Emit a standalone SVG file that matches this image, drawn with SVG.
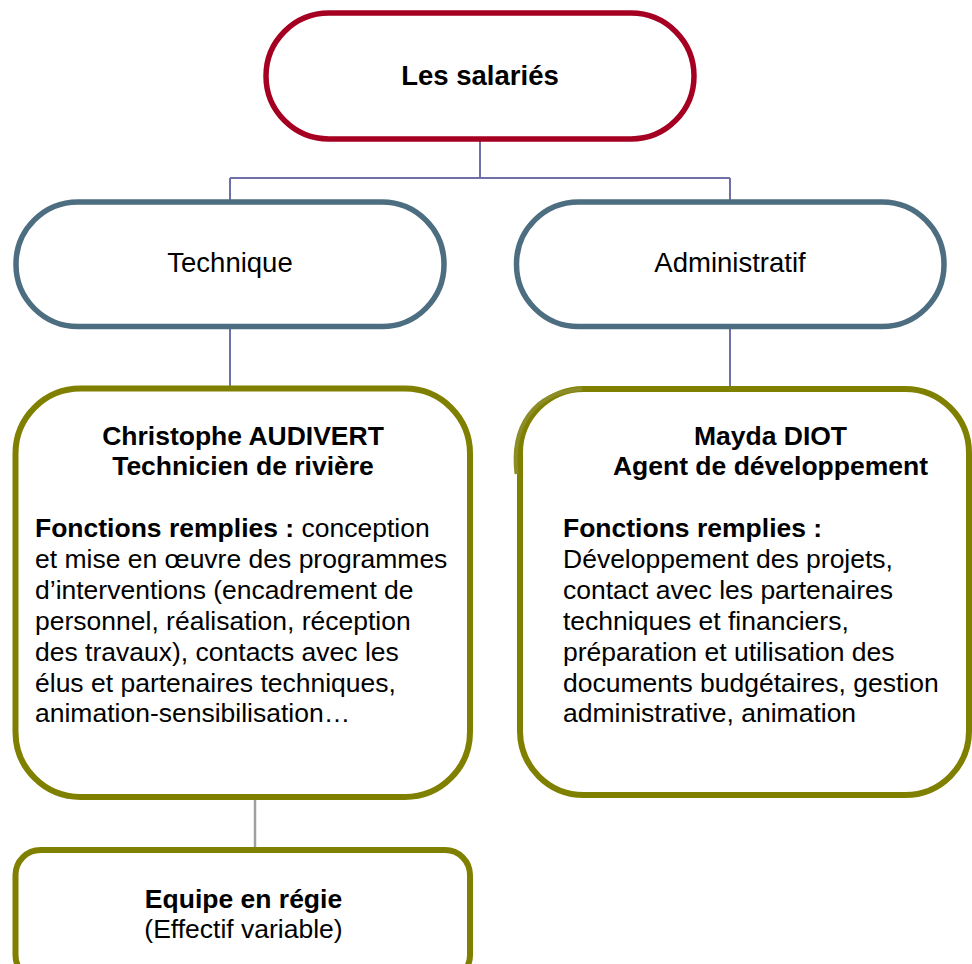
<svg xmlns="http://www.w3.org/2000/svg" width="972" height="964" viewBox="0 0 972 964">
<style>
  text { font-family: "Liberation Sans", Arial, sans-serif; fill: #000; }
  .b { font-weight: bold; }
  .t27 { font-size: 27.5px; }
  .t26 { font-size: 26.5px; }
  .red { fill: #fff; stroke: #A50021; stroke-width: 5.5; }
  .slate { fill: #fff; stroke: #4D6D80; stroke-width: 5.5; }
  .olive { fill: #fff; stroke: #808000; stroke-width: 6; }
  .conn { stroke: #7070A8; stroke-width: 2; fill: none; }
  .conn2 { stroke: #A0A0A0; stroke-width: 2.5; fill: none; }
</style>
<rect width="972" height="964" fill="#fff"/>
<g id="connectors">
  <path class="conn" d="M480 139 V178 M230 178 H730 M230 178 V202 M730 178 V202"/>
  <path class="conn" d="M230 326 V388 M730 326 V388"/>
  <path class="conn2" d="M255 800 V848"/>
</g>
<g id="node-salaries">
  <rect class="red" x="266" y="13" width="428" height="126" rx="63"/>
  <text class="b t27" x="480" y="85" text-anchor="middle">Les salariés</text>
</g>
<g id="node-technique">
  <rect class="slate" x="16" y="202" width="428" height="124.5" rx="62"/>
  <text class="t27" x="230" y="272" text-anchor="middle">Technique</text>
</g>
<g id="node-administratif">
  <rect class="slate" x="516.5" y="202" width="427.5" height="124.5" rx="62"/>
  <text class="t27" x="730" y="272" text-anchor="middle">Administratif</text>
</g>
<g id="node-christophe">
  <rect class="olive" x="15.5" y="388.5" width="454.5" height="408.5" rx="65"/>
  <text class="b t26" x="243" y="445" text-anchor="middle">Christophe AUDIVERT</text>
  <text class="b t26" x="243" y="475" text-anchor="middle">Technicien de rivière</text>
  <text class="t26" x="35" y="537"><tspan class="b">Fonctions remplies :</tspan> conception</text>
  <text class="t26" x="35" y="568">et mise en œuvre des programmes</text>
  <text class="t26" x="35" y="599">d’interventions (encadrement de</text>
  <text class="t26" x="35" y="630">personnel, réalisation, réception</text>
  <text class="t26" x="35" y="661">des travaux), contacts avec les</text>
  <text class="t26" x="35" y="692">élus et partenaires techniques,</text>
  <text class="t26" x="35" y="722">animation-sensibilisation…</text>
</g>
<g id="node-mayda">
  <rect class="olive" x="520" y="389" width="449" height="406" rx="64"/>
  <path d="M516.5 474 C511 428 532 392 582 389" fill="none" stroke="#8C8C28" stroke-width="4"/>
  <text class="b t26" x="770.5" y="445" text-anchor="middle">Mayda DIOT</text>
  <text class="b t26" x="770.5" y="475" text-anchor="middle">Agent de développement</text>
  <text class="b t26" x="563" y="537">Fonctions remplies :</text>
  <text class="t26" x="563" y="568">Développement des projets,</text>
  <text class="t26" x="563" y="599">contact avec les partenaires</text>
  <text class="t26" x="563" y="630">techniques et financiers,</text>
  <text class="t26" x="563" y="661">préparation et utilisation des</text>
  <text class="t26" x="563" y="692">documents budgétaires, gestion</text>
  <text class="t26" x="563" y="722">administrative, animation</text>
</g>
<g id="node-equipe">
  <rect class="olive" x="15.5" y="850" width="454.5" height="130" rx="25"/>
  <text class="b t26" x="243.5" y="908" text-anchor="middle">Equipe en régie</text>
  <text class="t26" x="243.5" y="938" text-anchor="middle">(Effectif variable)</text>
</g>
</svg>
